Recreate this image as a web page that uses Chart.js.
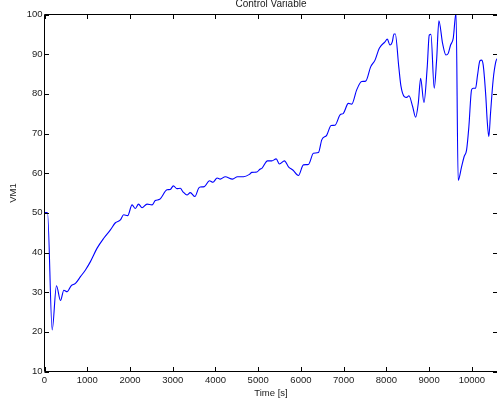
<!DOCTYPE html>
<html>
<head>
<meta charset="utf-8">
<script src="https://cdn.jsdelivr.net/npm/chart.js@4/dist/chart.umd.min.js"></script>
<style>
  html, body { margin: 0; padding: 0; background: #fff; overflow: hidden; }
  #wrap { position: relative; width: 520px; height: 399px; }
</style>
</head>
<body>
<div id="wrap"><canvas id="c" width="520" height="399"></canvas></div>
<script>
// Sample times (s) and recorded control variable VM1
const timeSec = [
  0, 70, 180, 280, 374, 452, 530, 623, 724, 841, 958, 1075, 1231, 1386, 1542, 1659,
  1776, 1853, 1947, 2049, 2126, 2200, 2282, 2399, 2516, 2593, 2694, 2866, 2944, 3015,
  3100, 3178, 3240, 3334, 3411, 3520, 3606, 3645, 3738, 3860, 3941, 4040, 4112, 4229,
  4400, 4516, 4657, 4797, 4852, 4969, 5040, 5086, 5218, 5320, 5421, 5498, 5615, 5709,
  5811, 5942, 6059, 6176, 6293, 6410, 6488, 6605, 6706, 6799, 6916, 6994, 7110, 7189,
  7305, 7422, 7516, 7632, 7734, 7834, 7967, 8021, 8084, 8138, 8178, 8208, 8290, 8340,
  8419, 8474, 8528, 8614, 8684, 8746, 8801, 8879, 8956, 9003, 9042, 9119, 9175, 9229,
  9315, 9393, 9447, 9502, 9564, 9630, 9680, 9759, 9820, 9876, 9930, 9993, 10031, 10086,
  10133, 10187, 10226, 10265, 10327, 10358, 10397, 10437, 10498, 10561, 10600
];
const vm1 = [
  50.1, 50.1, 20.5, 31.6, 27.9, 30.5, 30.1, 31.6, 32.2, 33.9, 35.6, 37.7, 41.1, 43.6, 45.7, 47.5,
  48.2, 49.5, 49.3, 52.0, 51.1, 52.2, 51.3, 52.2, 52.0, 53.1, 53.4, 55.8, 55.9, 56.8,
  56.1, 56.2, 55.3, 54.5, 55.1, 54.1, 56.2, 56.5, 56.6, 58.1, 57.7, 58.8, 58.5, 59.1,
  58.5, 59.1, 59.1, 59.7, 60.2, 60.3, 61.0, 61.2, 63.1, 63.1, 63.6, 62.3, 63.1, 61.6,
  60.8, 59.4, 62.1, 62.2, 65.0, 65.2, 68.4, 69.6, 72.0, 72.1, 74.7, 75.1, 77.6, 77.4,
  81.0, 83.1, 83.2, 86.8, 88.5, 91.5, 93.1, 93.8, 92.3, 93.1, 95.1, 95.1, 86.8, 82.0,
  79.3, 79.1, 79.5, 76.8, 74.1, 77.6, 83.9, 77.8, 86.8, 94.8, 95.0, 81.4, 88.5, 98.4,
  92.7, 89.8, 90.2, 92.3, 94.0, 100.5, 58.2, 61.6, 64.2, 65.8, 71.7, 81.0, 81.4, 81.4,
  84.7, 88.3, 88.5, 87.3, 79.3, 73.4, 69.2, 75.1, 83.5, 88.1, 89.0
];
const xTickValues = [0, 1000, 2000, 3000, 4000, 5000, 6000, 7000, 8000, 9000, 10000];
const yTickValues = [10, 20, 30, 40, 50, 60, 70, 80, 90, 100];

const FONT = 'Liberation Sans, Arial, Helvetica, sans-serif';
const TXT = '#1a1a1a';

// Box frame with inward tick marks on all four sides
const matlabFrame = {
  id: 'matlabFrame',
  afterDatasetsDraw(chart) {
    const { ctx, chartArea: a, scales } = chart;
    const len = 4.5;
    ctx.save();
    ctx.strokeStyle = '#000';
    ctx.lineWidth = 1;
    ctx.beginPath();
    ctx.rect(a.left, a.top, a.right - a.left, a.bottom - a.top);
    scales.x.ticks.forEach(t => {
      const px = Math.round(scales.x.getPixelForValue(t.value)) + 0.5;
      ctx.moveTo(px, a.bottom); ctx.lineTo(px, a.bottom - len);
      ctx.moveTo(px, a.top); ctx.lineTo(px, a.top + len);
    });
    scales.y.ticks.forEach(t => {
      const py = Math.round(scales.y.getPixelForValue(t.value)) + 0.5;
      ctx.moveTo(a.left, py); ctx.lineTo(a.left + len, py);
      ctx.moveTo(a.right, py); ctx.lineTo(a.right - len, py);
    });
    ctx.stroke();
    ctx.restore();
  }
};

new Chart(document.getElementById('c'), {
  type: 'line',
  data: {
    datasets: [{
      data: timeSec.map((t, i) => ({ x: t, y: vm1[i] })),
      borderColor: '#0000ff',
      borderWidth: 1.1,
      pointRadius: 0,
      cubicInterpolationMode: 'monotone',
      fill: false,
      clip: 0
    }]
  },
  options: {
    responsive: false,
    animation: false,
    events: [],
    layout: { padding: { left: 0, right: 22.5, top: 0, bottom: 0 } },
    plugins: {
      legend: { display: false },
      tooltip: { enabled: false },
      title: { display: false }
    },
    scales: {
      x: {
        type: 'linear',
        min: 0,
        max: 10600,
        afterBuildTicks: s => { s.ticks = xTickValues.map(v => ({ value: v })); },
        afterFit: s => { s.height = 27.5; },
        grid: { display: false, drawTicks: false },
        border: { display: false },
        ticks: {
          color: TXT, padding: 3,
          font: { family: FONT, size: 9.5 },
          callback: v => String(v),
          maxRotation: 0, autoSkip: false
        },
        title: {
          display: true, text: 'Time [s]', color: TXT,
          font: { family: FONT, size: 9.5 },
          padding: { top: 0, bottom: 0 }
        }
      },
      // top axis carries the plot title, centred over the axes box
      xTop: {
        type: 'linear',
        position: 'top',
        min: 0,
        max: 10600,
        afterFit: s => { s.height = 14.5; },
        grid: { display: false, drawTicks: false },
        border: { display: false },
        ticks: { display: false },
        title: {
          display: true, text: 'Control Variable', color: TXT,
          font: { family: FONT, size: 10, lineHeight: 0.8 },
          padding: { top: 0, bottom: 0 }
        }
      },
      y: {
        type: 'linear',
        min: 10,
        max: 100,
        afterBuildTicks: s => { s.ticks = yTickValues.map(v => ({ value: v })); },
        afterFit: s => { s.width = 44.5; },
        grid: { display: false, drawTicks: false },
        border: { display: false },
        ticks: {
          color: TXT, padding: 2,
          font: { family: FONT, size: 9.5 },
          callback: v => String(v),
          autoSkip: false
        },
        title: {
          display: true, text: 'VM1', color: TXT,
          font: { family: FONT, size: 9.5 },
          padding: { top: 8, bottom: 0 }
        }
      }
    }
  },
  plugins: [matlabFrame]
});
</script>
</body>
</html>
